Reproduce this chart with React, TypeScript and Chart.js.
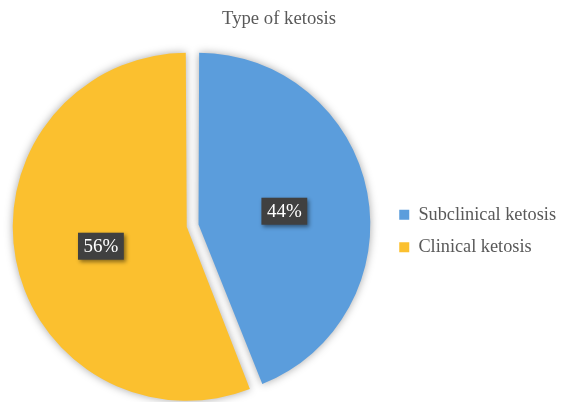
import React, { useEffect, useRef } from "react";
import { Chart, registerables } from "chart.js";

Chart.register(...registerables);

const chartTitle = "Type of ketosis";
const categories = ["Subclinical ketosis", "Clinical ketosis"];
const shares = [44, 56];
const sliceColors = ["#5B9DDC", "#FBC02F"];

const FONT = '"Liberation Serif", "Times New Roman", serif';

const shadowPlugin = {
  id: "pieShadow",
  beforeDatasetsDraw(chart: any) {
    const ctx = chart.ctx;
    ctx.save();
    ctx.shadowColor = "rgba(0,0,0,0.35)";
    ctx.shadowBlur = 9;
    ctx.shadowOffsetX = 0;
    ctx.shadowOffsetY = 0;
  },
  afterDatasetsDraw(chart: any) {
    chart.ctx.restore();
  },
};

const labelPlugin = {
  id: "pctLabels",
  afterDatasetsDraw(chart: any) {
    const meta = chart.getDatasetMeta(0);
    const ctx = chart.ctx;
    const data = chart.data.datasets[0].data as number[];
    const total = data.reduce((a, b) => a + b, 0);
    meta.data.forEach((arc: any, i: number) => {
      const { x, y, startAngle, endAngle, outerRadius } = arc.getProps(
        ["x", "y", "startAngle", "endAngle", "outerRadius"],
        true
      );
      const off = (arc.options.offset || 0) / 4;
      const half = (startAngle + endAngle) / 2;
      const d = outerRadius * 0.52 + off;
      const cx = x + Math.cos(half) * d;
      const cy = y + Math.sin(half) * d + 3;
      const text = Math.round((data[i] / total) * 100) + "%";
      ctx.save();
      ctx.font = "19px " + FONT;
      const w = ctx.measureText(text).width + 11;
      const h = 27;
      ctx.shadowColor = "rgba(0,0,0,0.45)";
      ctx.shadowBlur = 4;
      ctx.shadowOffsetX = 2;
      ctx.shadowOffsetY = 2;
      ctx.fillStyle = "#404040";
      ctx.fillRect(cx - w / 2, cy - h / 2, w, h);
      ctx.restore();
      ctx.save();
      ctx.font = "19px " + FONT;
      ctx.fillStyle = "#FFFFFF";
      ctx.textAlign = "center";
      ctx.textBaseline = "middle";
      ctx.fillText(text, cx, cy + 1);
      ctx.restore();
    });
  },
};

export default function App() {
  const ref = useRef<HTMLCanvasElement | null>(null);
  useEffect(() => {
    if (!ref.current) return;
    const chart = new Chart(ref.current, {
      type: "pie",
      data: {
        labels: categories,
        datasets: [
          {
            data: shares,
            backgroundColor: sliceColors,
            borderWidth: 0,
            offset: 24,
            hoverOffset: 24,
            radius: 168,
            clip: false,
          } as any,
        ],
      },
      options: {
        animation: false,
        responsive: false,
        layout: { padding: { left: -8, right: -5, top: 0, bottom: 0 } },
        plugins: {
          title: {
            display: true,
            text: chartTitle,
            color: "#595959",
            font: { family: FONT, size: 18.7, weight: "normal" },
            padding: { top: 8, bottom: 19 },
          },
          legend: {
            display: true,
            position: "right",
            title: {
              display: true,
              text: " ",
              font: { family: FONT, size: 10 },
              padding: { top: 48, bottom: 0 },
            },
            labels: {
              color: "#595959",
              font: { family: FONT, size: 18.3 },
              boxWidth: 10,
              boxHeight: 10,
              padding: 14,
            },
          },
          tooltip: { enabled: false },
        },
      } as any,
      plugins: [shadowPlugin, labelPlugin],
    });
    return () => chart.destroy();
  }, []);
  return (
    <div style={{ position: "absolute", left: 0, top: 0, width: 561, height: 402, background: "#fff" }}>
      <canvas ref={ref} width={561} height={402} />
    </div>
  );
}
